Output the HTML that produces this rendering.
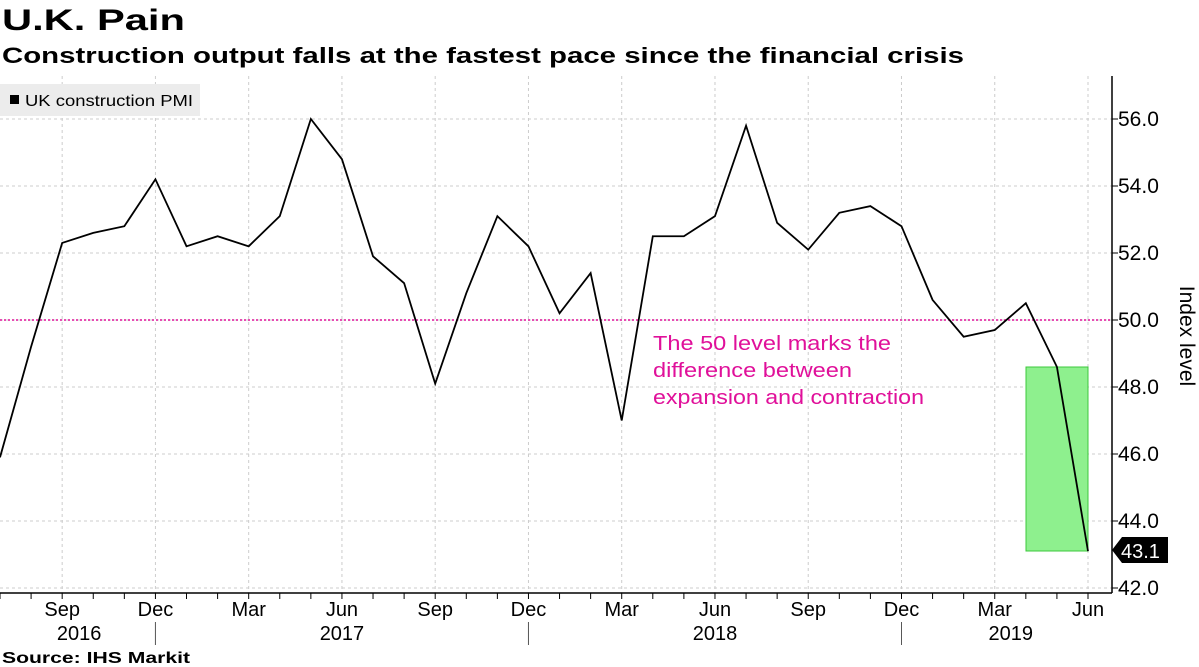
<!DOCTYPE html>
<html><head><meta charset="utf-8"><style>
body{margin:0;width:1199px;height:667px;background:#fff;font-family:"Liberation Sans",sans-serif;overflow:hidden}
</style></head><body>
<svg width="1199" height="667" style="position:absolute;left:0;top:0">
<text x="2" y="30" font-size="30" font-weight="bold" fill="#000" textLength="183" lengthAdjust="spacingAndGlyphs">U.K. Pain</text>
<text x="2" y="63" font-size="22" font-weight="bold" fill="#000" textLength="962" lengthAdjust="spacingAndGlyphs">Construction output falls at the fastest pace since the financial crisis</text>
<g id="grid"></g>
<line x1="0" y1="320" x2="1112" y2="320" stroke="#e0109a" stroke-width="1.5" stroke-dasharray="2,2"/>
<rect x="1026" y="367" width="62" height="184" fill="#8ef08e" stroke="#3cc83c"/>
<text font-size="20" fill="#e0109a"><tspan x="653" y="350" textLength="238" lengthAdjust="spacingAndGlyphs">The 50 level marks the</tspan><tspan x="653" y="377" textLength="199" lengthAdjust="spacingAndGlyphs">difference between</tspan><tspan x="653" y="404" textLength="271" lengthAdjust="spacingAndGlyphs">expansion and contraction</tspan></text>
<rect x="0" y="84" width="200" height="32" fill="#ececec"/>
<rect x="10" y="95" width="9" height="9" fill="#000"/>
<text x="25" y="106" font-size="16" fill="#000" textLength="168" lengthAdjust="spacingAndGlyphs">UK construction PMI</text>
<g id="series"></g>
<line x1="0" y1="593" x2="1112" y2="593" stroke="#000" stroke-width="1.5"/>
<line x1="1112" y1="76" x2="1112" y2="593" stroke="#000" stroke-width="1.5"/>
<g id="axes"></g>
<text transform="translate(1180,336) rotate(90)" text-anchor="middle" font-size="21" fill="#000">Index level</text>
<polygon points="1112,550 1122,537 1168,537 1168,563 1122,563" fill="#000"/>
<text x="1121" y="558" font-size="20" fill="#fff">43.1</text>
<text x="2" y="663" font-size="16" font-weight="bold" fill="#000" textLength="188" lengthAdjust="spacingAndGlyphs">Source: IHS Markit</text>
</svg>
<script>
const values=[45.9,49.2,52.3,52.6,52.8,54.2,52.2,52.5,52.2,53.1,56.0,54.8,51.9,51.1,48.1,50.8,53.1,52.2,50.2,51.4,47.0,52.5,52.5,53.1,55.8,52.9,52.1,53.2,53.4,52.8,50.6,49.5,49.7,50.5,48.6,43.1];
const yTicks=[42,44,46,48,50,52,54,56];
const monthLabels=["Sep","Dec","Mar","Jun","Sep","Dec","Mar","Jun","Sep","Dec","Mar","Jun"];
const yearLabels=["2016","2017","2018","2019"];
const NS="http://www.w3.org/2000/svg";
const X=i=>i*1088/35;
const Y=v=>588-(v-42)*33.5;
function mk(tag,attrs,parent,txt){const e=document.createElementNS(NS,tag);for(const k in attrs)e.setAttribute(k,attrs[k]);if(txt!==undefined)e.textContent=txt;document.getElementById(parent).appendChild(e);return e;}
yTicks.forEach(t=>{
 const g=mk('line',{x1:0,x2:1112,y1:Y(t),y2:Y(t),stroke:'#ccc','stroke-dasharray':'3,3'},'grid');
 
 
 const tk=mk('line',{x1:1112,x2:1118,y1:Y(t),y2:Y(t),stroke:'#000'},'axes');
 
 
 const l=mk('text',{x:1118,y:Y(t)+7,'font-size':21,fill:'#000'},'axes',t.toFixed(1));
 
 
});
monthLabels.forEach((m,k)=>{
 const i=2+3*k,x=X(i);
 const g=mk('line',{x1:x,x2:x,y1:76,y2:593,stroke:'#ccc','stroke-dasharray':'3,3'},'grid');
 
 
 const l=mk('text',{x:x,y:616,'font-size':20,fill:'#000','text-anchor':'middle'},'axes',m);
 
 
});
for(let i=0;i<36;i++){
 const tk=mk('line',{x1:X(i),x2:X(i),y1:593,y2:599,stroke:'#000'},'axes');
 
 
}
[5,17,29].forEach(i=>{
 const d=mk('line',{x1:X(i),x2:X(i),y1:622,y2:645,stroke:'#555'},'axes');
 
 
});
const yearX=[X(2)+17,X(11),X(23),X(32)+16];
yearLabels.forEach((y,k)=>{
 const l=mk('text',{x:yearX[k],y:640,'font-size':20,fill:'#000','text-anchor':'middle'},'axes',y);
 
 
});
const p=mk('polyline',{points:values.map((v,i)=>X(i)+','+Y(v)).join(' '),fill:'none',stroke:'#000','stroke-width':1.8},'series');


</script>
</body></html>
